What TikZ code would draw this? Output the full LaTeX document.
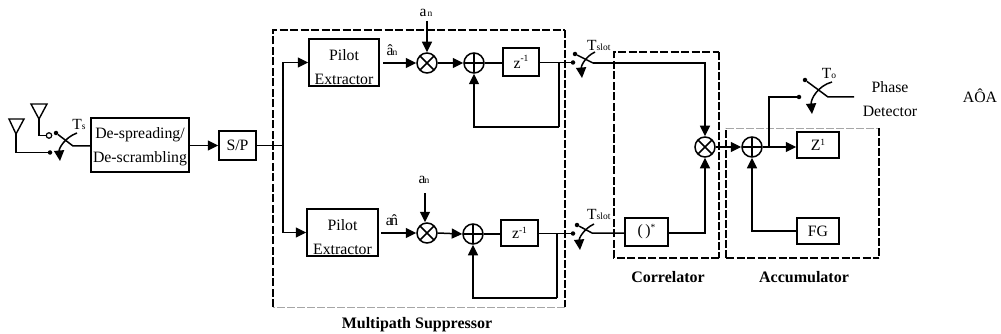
\documentclass[tikz,border=0pt]{standalone}
\usepackage{fontspec}
\setmainfont{Liberation Serif}
\usetikzlibrary{arrows.meta}
\newcommand{\fs}[1]{\fontsize{#1}{#1}\selectfont}
\newcommand{\smx}[1]{{\fs{9.5}#1}}
\tikzset{
  x=1pt,y=-1pt,
  wire/.style={line width=1.5pt},
  arr/.style={wire,-{Triangle[length=10.5pt,width=10pt]}},
  blockbox/.style={draw,line width=1.5pt,inner sep=0pt,align=center,font=\fs{15.8}},
  txt/.style={inner sep=0pt,font=\fs{15.8},align=center},
  boldtxt/.style={inner sep=0pt,font=\fs{16}\bfseries},
  small/.style={inner sep=0pt,font=\fs{15.5}},
  mulnode/.style={circle,draw,line width=1.5pt,minimum size=20pt,inner sep=0pt,
    path picture={\draw[line width=1.5pt] (path picture bounding box.north west)--(path picture bounding box.south east)
      (path picture bounding box.north east)--(path picture bounding box.south west);}},
  addnode/.style={circle,draw,line width=1.5pt,minimum size=20pt,inner sep=0pt,
    path picture={\draw[line width=1.5pt] (path picture bounding box.north)--(path picture bounding box.south)
      (path picture bounding box.east)--(path picture bounding box.west);}},
  contact/.style={circle,fill=black,minimum size=4.5pt,inner sep=0pt},
  opencontact/.style={circle,draw,fill=white,line width=1.2pt,minimum size=5.5pt,inner sep=0pt},
  antenna/.style={draw,line width=1.4pt,line join=miter},
  thickdash/.style={line width=2.6pt,dash pattern=on 8pt off 2.5pt},
  thindash/.style={line width=1.1pt,dash pattern=on 8pt off 2pt},
  graydash/.style={line width=.8pt,gray!70,dash pattern=on 8pt off 2pt},
}
\begin{document}
\begin{tikzpicture}
\useasboundingbox (0,0) rectangle (1001,334);
% enclosing dashed regions
\coordinate (mpNW) at (273,30);\coordinate (mpNE) at (565,30);
\coordinate (mpSE) at (565,307);\coordinate (mpSW) at (273,307);
\draw[thickdash] (mpSW)--(mpNW)--(mpNE);
\draw[thindash] (mpNE)--(mpSE);
\draw[graydash] (mpSE)--(mpSW);
\coordinate (coNW) at (614,52);\coordinate (coNE) at (719,52);
\coordinate (coSE) at (719,258);\coordinate (coSW) at (614,258);
\draw[thickdash] (coSE)--(coSW)--(coNW)--(coNE);
\draw[thindash] (coNE)--(coSE);
\coordinate (acNW) at (726,128);\coordinate (acNE) at (879,128);
\coordinate (acSE) at (879,258);\coordinate (acSW) at (726,258);
\draw[graydash] (acNW)--(acNE);
\draw[thindash] (acNE)--(acSE) (acSW)--(acNW);
\draw[thickdash] (acSW)--(acSE);
% blocks
\node[blockbox,minimum width=98pt,minimum height=54pt] (desp) at (140,145) {\rule{0pt}{14pt}De-spreading/\\[8pt]De-scrambling};
\node[blockbox,minimum width=37pt,minimum height=29pt] (sp) at (237.5,145.5) {S/P};
\node[blockbox,minimum width=70pt,minimum height=47pt] (pe1) at (344,62.5) {\rule{0pt}{20pt}Pilot\\[8.5pt]Extractor};
\node[blockbox,minimum width=71pt,minimum height=47pt] (pe2) at (342.5,232.5) {\rule{0pt}{20pt}Pilot\\[8.5pt]Extractor};
\node[blockbox,minimum width=36pt,minimum height=28pt] (z1) at (521,62) {\raisebox{-3pt}{z}\raisebox{4pt}{\smx{-1}}};
\node[blockbox,minimum width=37pt,minimum height=26pt] (z2) at (519.5,233) {z\raisebox{5pt}{\smx{-1}}};
\node[blockbox,minimum width=43pt,minimum height=28pt] (conj) at (646.5,232) {(\,)\raisebox{5pt}{\smx{*}}};
\node[blockbox,minimum width=42pt,minimum height=26pt] (zacc) at (818,145) {Z\raisebox{5pt}{\smx{1}}};
\node[blockbox,minimum width=42pt,minimum height=26pt] (fg) at (818,231) {FG};
% mixers and adders
\node[mulnode] (m1) at (427,63) {};
\node[addnode] (a1) at (474,63) {};
\node[mulnode] (m2) at (427,233) {};
\node[addnode] (a2) at (473,234) {};
\node[mulnode] (m3) at (705,147) {};
\node[addnode] (a3) at (752,147) {};
% antennas
\coordinate (antA) at (16,134);\coordinate (antB) at (39,119);
\draw[antenna] (9,119)--(24,119)--(antA)--cycle;
\draw[antenna] (31,104)--(47,104)--(antB)--cycle;
\node[contact] (cA) at (50,152.5) {};
\node[opencontact] (cB) at (49,135.5) {};
\draw[wire] (antA)|-(cA);
\draw[wire] (antB)|-(cB);
% input switch
\node[contact] (s0a) at (56,133) {};
\coordinate (s0b) at (73,146);
\coordinate (s0c) at (77,133);\coordinate (s0d) at (60,161);
\draw[wire] (s0a)--(s0b)--(s0b-|desp.west);
\draw[arr] (s0c) to[out=200,in=95] (s0d);
\node[small] (ts) at (79,124) {T\smx{s}};
% main path
\draw[arr] (desp.east|-sp)--(sp.west);
\coordinate (split) at (283,145.5);
\draw[wire] (sp.east)--(split);
\draw[arr] (split)|-(pe1.west);
\draw[arr] (split)|-(pe2.west);
% upper branch
\coordinate (pe1o) at (383,63);
\node[small] (h1) at (392,50) {\^a\kern-1pt\smx{n}};
\draw[arr] (pe1o)--(m1.west);
\node[small] (an1) at (426,13) {a\kern1pt\smx{n}};
\draw[arr] (an1.south-|m1)+(0,4)--(m1.north);
\draw[arr] (m1.east)--(a1.west);
\draw[wire] (a1.east)--(z1.west|-a1);
\node[contact] (c1) at (573,62.5) {};
\draw[wire] (z1.east|-c1)--(c1);
\coordinate (fb1) at (559,62.5);
\coordinate (fb1b) at (559,127);
\draw[wire] (fb1)--(fb1b);
\draw[arr] (fb1b)-|(a1.south);
% lower branch
\coordinate (pe2o) at (381,233);
\node[small] (h2) at (392,220) {a\kern-2.5pt\^n};
\draw[arr] (pe2o)--(m2.west);
\node[small] (an2) at (424,180) {a\kern-1pt\smx{n}};
\draw[arr] (425,193)--(m2.north-|425,0);
\draw[arr] (m2.east)--(a2.west);
\draw[wire] (a2.east)--(z2.west|-a2);
\node[contact] (c2) at (573,233.5) {};
\draw[wire] (z2.east|-c2)--(c2);
\coordinate (fb2) at (557,233.5);
\coordinate (fb2b) at (557,298);
\draw[wire] (fb2)--(fb2b);
\draw[arr] (fb2b)-|(a2.south);
% slot switches
\node[contact] (s1a) at (575,54) {};
\coordinate (s1b) at (593,63);
\coordinate (s1c) at (595,52);\coordinate (s1d) at (582,78);
\draw[wire] (s1a)--(s1b);
\draw[arr] (s1c) to[out=205,in=95] (s1d);
\node[small,anchor=west] (ts1) at (587,45) {T\smx{slot}};
\draw[arr] (s1b)-|(m3.north);
\node[contact] (s2a) at (577,225) {};
\coordinate (s2b) at (592,233);
\coordinate (s2c) at (594,224);\coordinate (s2d) at (580,250);
\draw[wire] (s2a)--(s2b)--(s2b-|conj.west);
\draw[arr] (s2c) to[out=205,in=95] (s2d);
\node[small,anchor=west] (ts2) at (587,214) {T\smx{slot}};
\draw[arr] (conj.east|-s2b)-|(m3.south);
% accumulator
\draw[arr] (m3.east)--(a3.west);
\draw[arr] (a3.east)--(zacc.west|-a3);
\draw[arr] (fg.west)-|(a3.south);
\coordinate (tap) at (769,147);
\node[contact] (c3) at (799,97) {};
\draw[wire] (tap)|-(c3);
\node[contact] (s3a) at (805,80) {};
\coordinate (s3b) at (828,97);
\coordinate (s3e) at (854,97);
\coordinate (s3c) at (832,82);\coordinate (s3d) at (812,114);
\draw[wire] (s3a)--(s3b)--(s3e);
\draw[arr] (s3c) to[out=195,in=95] (s3d);
\node[small] (to) at (829,73) {T\smx{o}};
% labels
\node[txt] (pd) at (890,99) {Phase\\[8.5pt]Detector};
\node[txt] (aoa) at (980,96) {A\^OA};
\node[boldtxt] (lmp) at (417,325) {Multipath Suppressor};
\node[boldtxt] (lco) at (668,277) {Correlator};
\node[boldtxt] (lac) at (804,277) {Accumulator};
\end{tikzpicture}
\end{document}
